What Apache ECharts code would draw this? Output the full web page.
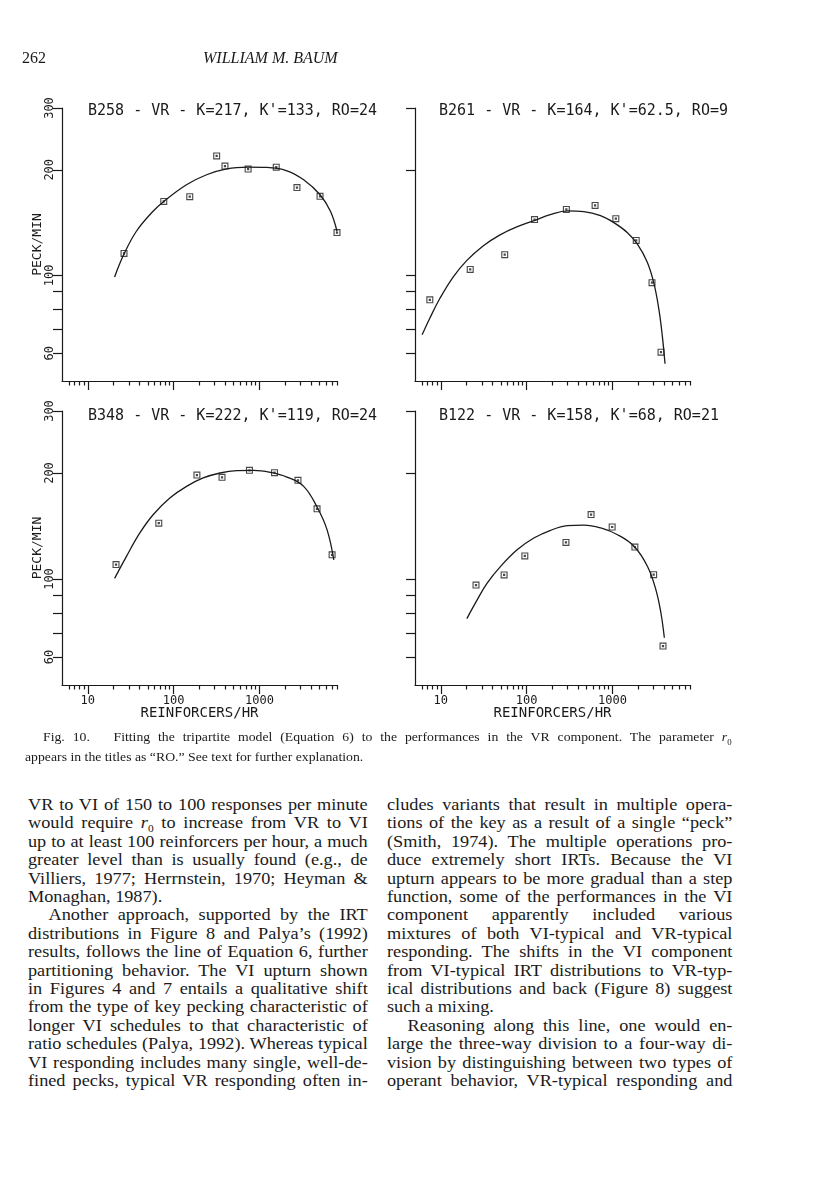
<!DOCTYPE html>
<html>
<head>
<meta charset="utf-8">
<script src="https://cdn.jsdelivr.net/npm/echarts@6/dist/echarts.min.js"></script>
<style>
  html, body { margin: 0; background: #fff; }
  #page { position: relative; width: 816px; height: 1193px; overflow: hidden;
    font-family: 'Liberation Serif', 'Times New Roman', serif; color: #1a1a1a; }
  #chart { position: absolute; left: 0; top: 0; width: 816px; height: 730px; }
  .hd { position: absolute; top: 47px; font-size: 16px; line-height: 22px; z-index: 2; }
  .cap { position: absolute; font-size: 12.5px; line-height: 20px; white-space: nowrap; z-index: 2;
    transform: scaleX(1.1); transform-origin: 0 0; }
  .col { position: absolute; top: 796px; font-size: 16px; line-height: 18.4px; }
  .col div { white-space: nowrap; transform: scaleX(1.14); transform-origin: 0 0; }
  .left div { width: 298px; }
  .right div { width: 303px; }
  .j { text-align: justify; text-align-last: justify; }
  .ind { text-indent: 18px; }
</style>
</head>
<body>
<div id="page">
  <div class="hd" style="left:22px">262</div>
  <div class="hd" style="left:203px;font-style:italic">WILLIAM M. BAUM</div>
  <div id="chart"></div>

  <div class="cap j" style="left:43px;top:727px;width:626px">Fig. 10.&nbsp;&nbsp; Fitting the tripartite model (Equation 6) to the performances in the VR component. The parameter <i>r</i><sub style="font-size:8px">0</sub></div>
  <div class="cap" style="left:25px;top:747px">appears in the titles as “RO.” See text for further explanation.</div>

  <div class="col left" style="left:28px;width:340px">
    <div class="j">VR to VI of 150 to 100 responses per minute</div>
    <div class="j">would require <i>r</i><sub style="font-size:10px;line-height:0">0</sub> to increase from VR to VI</div>
    <div class="j">up to at least 100 reinforcers per hour, a much</div>
    <div class="j">greater level than is usually found (e.g., de</div>
    <div class="j">Villiers, 1977; Herrnstein, 1970; Heyman &amp;</div>
    <div>Monaghan, 1987).</div>
    <div class="j ind">Another approach, supported by the IRT</div>
    <div class="j">distributions in Figure 8 and Palya’s (1992)</div>
    <div class="j">results, follows the line of Equation 6, further</div>
    <div class="j">partitioning behavior. The VI upturn shown</div>
    <div class="j">in Figures 4 and 7 entails a qualitative shift</div>
    <div class="j">from the type of key pecking characteristic of</div>
    <div class="j">longer VI schedules to that characteristic of</div>
    <div class="j">ratio schedules (Palya, 1992). Whereas typical</div>
    <div class="j">VI responding includes many single, well-de-</div>
    <div class="j">fined pecks, typical VR responding often in-</div>
  </div>

  <div class="col right" style="left:387px;width:345px">
    <div class="j">cludes variants that result in multiple opera-</div>
    <div class="j">tions of the key as a result of a single “peck”</div>
    <div class="j">(Smith, 1974). The multiple operations pro-</div>
    <div class="j">duce extremely short IRTs. Because the VI</div>
    <div class="j">upturn appears to be more gradual than a step</div>
    <div class="j">function, some of the performances in the VI</div>
    <div class="j">component apparently included various</div>
    <div class="j">mixtures of both VI-typical and VR-typical</div>
    <div class="j">responding. The shifts in the VI component</div>
    <div class="j">from VI-typical IRT distributions to VR-typ-</div>
    <div class="j">ical distributions and back (Figure 8) suggest</div>
    <div>such a mixing.</div>
    <div class="j ind">Reasoning along this line, one would en-</div>
    <div class="j">large the three-way division to a four-way di-</div>
    <div class="j">vision by distinguishing between two types of</div>
    <div class="j">operant behavior, VR-typical responding and</div>
  </div>
</div>

<script>
// B258
const b258X = [26.4, 76.7, 154, 317, 396, 737, 1567, 2733, 5077, 8000]
const b258Y = [115.5, 162.5, 167.6, 219, 205, 201, 203.5, 178, 168, 132.5]
const b258FitX = [20.5, 26.4, 36.8, 57.5, 76.7, 141, 242, 415, 737, 1218, 2088, 3270, 5077, 6707, 8000]
const b258FitY = [99, 115, 133.6, 152.3, 162.5, 181.3, 193.6, 201.3, 203.5, 203.1, 198.7, 187.3, 169.8, 152.3, 133.6]

// B261
const b261X = [7.44, 22, 55.5, 123.5, 290, 627, 1094, 1891, 2886, 3675]
const b261Y = [85.2, 104, 114.6, 144.2, 154.2, 158.3, 145.1, 125.8, 95.3, 60.4]
const b261FitX = [6.05, 7.44, 9.73, 13.9, 20, 31.3, 49, 76.7, 120, 188, 300, 462, 724, 1037, 1484, 1943, 2544, 3044, 3483, 3811, 4093]
const b261FitY = [67.7, 75.5, 85.9, 98.9, 110.2, 121.5, 130.5, 137.5, 143, 149, 152.8, 152, 148, 141.4, 132.6, 122.9, 109, 94.7, 79.6, 67, 56]

// B348
const b348X = [21.3, 67.1, 186.6, 366, 764, 1497, 2807, 4684, 7015]
const b348Y = [109.9, 144.1, 197.4, 194.4, 203.5, 200.4, 190.6, 158.3, 117.1]
const b348FitX = [20.5, 28.1, 40.2, 57.6, 90.2, 141.3, 221, 347, 543, 851, 1333, 2088, 3270, 4684, 6133, 7336]
const b348FitY = [100.4, 115.8, 134.9, 152.2, 169.8, 183.3, 193.6, 200, 203.1, 203.5, 200.9, 194.8, 183.3, 160.1, 137.9, 113.3]

// B122
const b122X = [25.7, 54.6, 95.2, 287, 563, 991, 1824, 3017, 3878]
const b122Y = [96.1, 102.7, 116.3, 127, 152.4, 140.5, 123.2, 102.9, 64.5]
const b122FitX = [20.1, 26.4, 34.5, 49.4, 77.4, 121.3, 190, 297.6, 466.3, 730.4, 1144, 1792, 2567, 3212, 3675, 4020]
const b122FitY = [77.2, 87.1, 97.2, 108.4, 121, 130.7, 137.5, 141.7, 142.3, 139.6, 133.6, 123.7, 108.4, 93, 79.8, 68.1]

const titles = [
  "B258 - VR - K=217, K'=133, RO=24",
  "B261 - VR - K=164, K'=62.5, RO=9",
  "B348 - VR - K=222, K'=119, RO=24",
  "B122 - VR - K=158, K'=68, RO=21"
]

// tick positions
const xMinorTicks = [6, 7, 8, 9, 20, 30, 40, 50, 60, 70, 80, 90, 200, 300, 400, 500, 600, 700, 800, 900,
  2000, 3000, 4000, 5000, 6000, 7000, 8000]
const xMajorTicks = [10, 100, 1000]
const yTicks = [60, 70, 80, 90, 100, 200, 300]
const yLabels = [60, 100, 200, 300]

const panels = [
  { pts: [b258X, b258Y], fit: [b258FitX, b258FitY] },
  { pts: [b261X, b261Y], fit: [b261FitX, b261FitY] },
  { pts: [b348X, b348Y], fit: [b348FitX, b348FitY] },
  { pts: [b122X, b122Y], fit: [b122FitX, b122FitY] }
]

const ink = '#1a1a1a'
const mono = "'DejaVu Sans Mono', monospace"
const line = { color: ink, width: 1.2 }
const grids = [
  { left: 62, top: 108, width: 275, height: 273 },
  { left: 415, top: 108, width: 275, height: 273 },
  { left: 62, top: 411, width: 275, height: 274 },
  { left: 415, top: 411, width: 275, height: 274 }
]
const titlePos = [[88, 104], [439, 104], [88, 409], [439, 409]]
const marker = 'path://M0 0H10V10H0Z M1.6 1.6V8.4H8.4V1.6Z M3.4 3.4H6.6V6.6H3.4Z'
const zip = (xs, ys) => xs.map((x, i) => [x, ys[i]])

const chart = echarts.init(document.getElementById('chart'))
chart.setOption({
  animation: false,
  backgroundColor: 'transparent',
  title: titles.map((t, i) => ({
    text: t,
    left: titlePos[i][0],
    top: titlePos[i][1],
    padding: 0,
    textStyle: { fontFamily: mono, fontSize: 15, fontWeight: 'normal', color: ink }
  })),
  grid: grids.map(g => Object.assign({ outerBoundsMode: 'none' }, g)),
  xAxis: grids.flatMap((g, i) => {
    const bottom = i >= 2
    return [
      {
        type: 'log', gridIndex: i, min: 5, max: 8000, position: 'bottom',
        axisLine: { show: true, lineStyle: line },
        axisTick: { show: true, customValues: xMinorTicks, length: 4.5, lineStyle: line },
        axisLabel: { show: false },
        splitLine: { show: false }
      },
      {
        type: 'log', gridIndex: i, min: 5, max: 8000, position: 'bottom',
        axisLine: { show: false },
        axisTick: { show: true, customValues: xMajorTicks, length: 9, lineStyle: line },
        axisLabel: {
          show: bottom, customValues: xMajorTicks, margin: 10,
          formatter: v => String(Math.round(v)),
          fontFamily: mono, fontSize: 12, color: ink
        },
        splitLine: { show: false },
        name: bottom ? 'REINFORCERS/HR' : '',
        nameLocation: 'middle',
        nameGap: 21,
        nameMoveOverlap: false,
        nameTextStyle: { fontFamily: mono, fontSize: 14, color: ink }
      }
    ]
  }),
  yAxis: grids.map((g, i) => ({
    type: 'log', gridIndex: i, min: 50, max: 300,
    axisLine: { show: true, lineStyle: line },
    axisTick: { show: true, customValues: yTicks, length: 9, lineStyle: line },
    axisLabel: {
      show: i % 2 === 0, customValues: yLabels, rotate: 90, margin: 6,
      fontFamily: mono, fontSize: 12, color: ink
    },
    splitLine: { show: false },
    name: i % 2 === 0 ? 'PECK/MIN' : '',
    nameLocation: 'middle',
    nameRotate: 90,
    nameGap: 18,
    nameMoveOverlap: false,
    nameTextStyle: { fontFamily: mono, fontSize: 13, color: ink }
  })),
  series: panels.flatMap((p, i) => [
    {
      type: 'line',
      xAxisIndex: i * 2,
      yAxisIndex: i,
      data: zip(p.fit[0], p.fit[1]),
      smooth: 0.4,
      symbol: 'none',
      clip: false,
      lineStyle: { color: ink, width: 1.3 }
    },
    {
      type: 'scatter',
      xAxisIndex: i * 2,
      yAxisIndex: i,
      data: zip(p.pts[0], p.pts[1]),
      symbol: marker,
      symbolSize: 7,
      clip: false,
      z: 3,
      itemStyle: { color: ink }
    }
  ])
})
</script>
</body>
</html>
